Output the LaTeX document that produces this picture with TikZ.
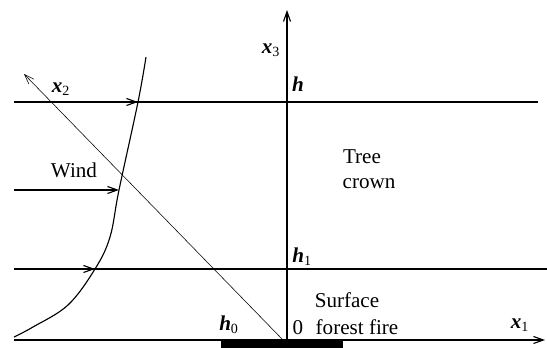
\documentclass[tikz,border=0pt]{standalone}
\usepackage{fontspec}
\setmainfont{Liberation Serif}
\usetikzlibrary{arrows.meta,positioning}
\tikzset{>={Straight Barb[length=7pt,width=5pt]}}
\tikzset{lbl/.style={inner sep=1pt, font=\fontsize{15}{17}\selectfont}}
\tikzset{var/.style={lbl, font=\fontsize{15}{17}\selectfont\bfseries\itshape}}
\newcommand{\idx}[1]{\textsubscript{\normalfont\fontsize{10}{12}\selectfont #1}}

\begin{document}
\begin{tikzpicture}[x=0.025cm, y=0.025cm]
                \useasboundingbox (0,0) rectangle (547,348);%
                % axes
                \coordinate (O) at (287,8);%
                \coordinate (Top) at (287,338);%
                \coordinate (Left) at (14,8);%
                \coordinate (Right) at (545,8);%
                \coordinate (Foot) at (283,8);%
                \coordinate (Far) at (24,274);%
                % wind profile points
                \coordinate (Wh) at (138,246);%
                \coordinate (Wm) at (119,158);%
                \coordinate (Wl) at (95,79);%
                \coordinate (Hl) at (14,246);%
                \coordinate (Hr) at (538,246);%
                \coordinate (Ml) at (14,158);%
                \coordinate (Ll) at (14,79);%
                \coordinate (Lr) at (547,79);%
                \fill (221,0) rectangle (343,8);%
                \draw[thick, ->] (Left) -- (Right);%
                \draw[thick, ->] (O) -- (Top);%
                \draw[->] (Foot) -- (Far);%
                \draw[thick] (Hl) -- (Hr);%
                \draw[thick] (Ll) -- (Lr);%
                \draw[thick, ->] (Hl) -- (Wh);%
                \draw[thick, ->] (Ml) -- (Wm);%
                \draw[thick, ->] (Ll) -- (Wl);%
                \draw[thick] plot[smooth, tension=0.6] coordinates
                  {(14,11) (33,21) (68,43) (Wl) (110,111) (Wm) (Wh) (146,291)};%
                % labels
                \node[var] (x2) at (61,259) {x\idx{2}};%
                \node[var] (h) at (298,264) {h};%
                \node[var] (x3) at (271,298) {x\idx{3}};%
                \node[lbl] (wind) at (74,178) {Wind};%
                \node[lbl] (tree) at (362,191) {Tree};%
                \node[lbl] (crown) at (369,164) {crown};%
                \node[var] (h1) at (302,91) {h\idx{1}};%
                \node[lbl] (surface) at (347,48) {Surface};%
                \node[lbl] (fire) at (357,21) {forest fire};%
                \node[var] (h0) at (229,23) {h\idx{0}};%
                \node[lbl] (zero) at (298,20) {0};%
                \node[var] (x1) at (520,23) {x\idx{1}};%
\end{tikzpicture}
\end{document}
